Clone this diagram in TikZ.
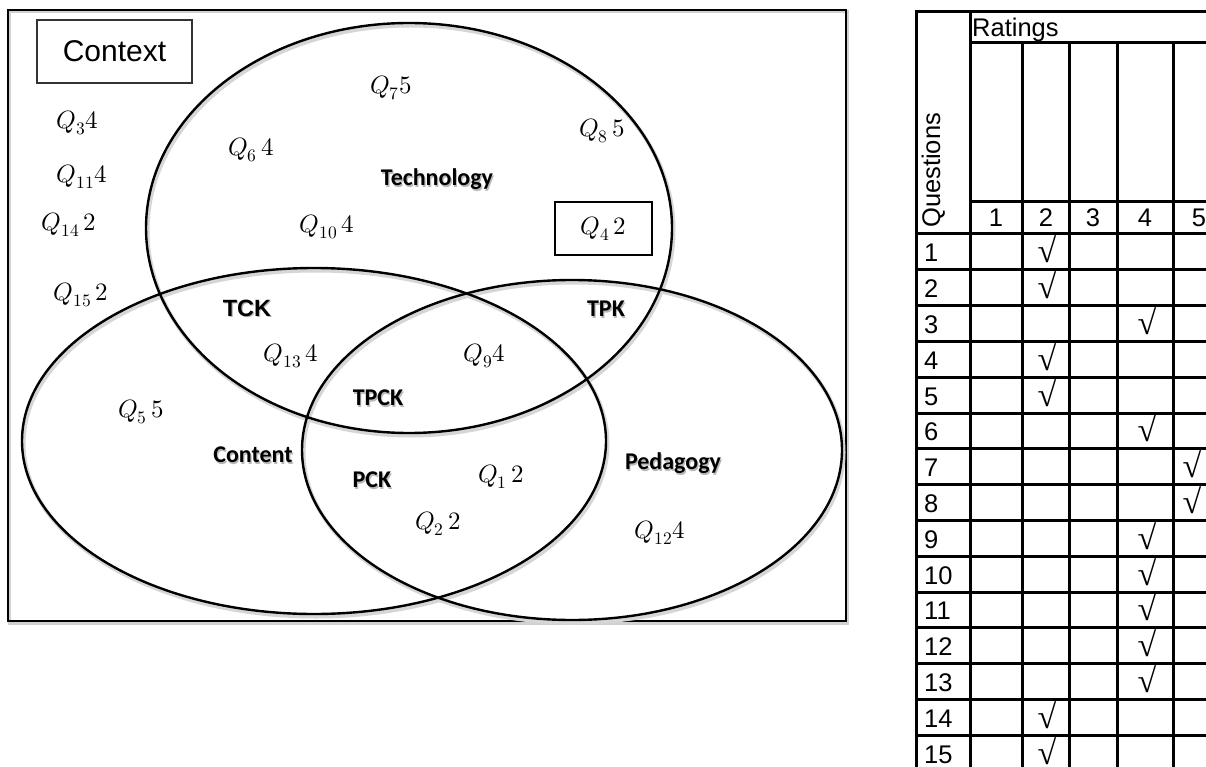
\documentclass[tikz,border=0pt]{standalone}
\usepackage{fontspec}
\usepackage{unicode-math}
\setmainfont{Liberation Sans}
\setmathfont{Latin Modern Math}
\newfontfamily\calibri{Carlito}
\newfontfamily\serifcheck{Liberation Serif}

% soft drop shadow behind the bold area labels
\newcommand{\shd}[1]{\makebox[0pt][l]{\hspace{1.2pt}\raisebox{-1.6pt}{\textcolor{black!28}{#1}}}#1}
% check mark set without depth
\newcommand{\tickmark}{\raisebox{0pt}[\height][0pt]{√}}

\tikzset{
  venn/.style={line width=2.4pt, black},
  vshadow/.style={line width=4pt, black!16},
  qlab/.style={inner sep=0pt, font=\fontsize{25}{29}\selectfont},
  area/.style={inner sep=0pt, font=\calibri\bfseries\fontsize{24}{28}\selectfont},
  tabtxt/.style={inner sep=0pt, font=\fontsize{25.5}{30}\selectfont},
  tick/.style={inner sep=0pt, font=\serifcheck\fontsize{34}{38}\selectfont},
  gridline/.style={line width=3pt, black},
}

\begin{document}
\begin{tikzpicture}[x=1pt,y=-1pt]
\useasboundingbox (0,0) rectangle (1206,767);
\clip (0,0) rectangle (1206,767);
\fill[white] (0,0) rectangle (1206,767);

% ---------------- context frame ----------------
\draw[black!18, line width=3pt] (9.5,12) rectangle (847.5,623);
\draw[line width=2.4pt] (8,10) rectangle (846,621);

% ---------------- the three knowledge domains ----------------
\draw[vshadow] (410.5,230.5) ellipse [x radius=263, y radius=205];
\draw[vshadow] (315.5,443.5) ellipse [x radius=292, y radius=173];
\draw[vshadow] (573.5,452.5) ellipse [x radius=270, y radius=170];
\draw[venn] (409,228) ellipse [x radius=263, y radius=205];
\draw[venn] (314,441) ellipse [x radius=292, y radius=173];
\draw[venn] (572,450) ellipse [x radius=270, y radius=170];

% ---------------- labels ----------------
\node[draw=black!80, line width=1.3pt, minimum width=155, minimum height=63,
      inner sep=0pt, font=\fontsize{30}{34}\selectfont] (context) at (114.5,51.5) {Context};

\node[area] (tech) at (437,180) {\shd{Technology}};
\node[area] (cont) at (253,456) {\shd{Content}};
\node[area] (ped)  at (673,464) {\shd{Pedagogy}};
\node[inner sep=0pt, font=\bfseries\fontsize{23.5}{27}\selectfont] (tck) at (247,309) {\shd{TCK}};
\node[area] (tpk)  at (606,310) {\shd{TPK}};
\node[area] (tpck) at (378,399) {\shd{TPCK}};
\node[area] (pck)  at (372,481) {\shd{PCK}};

% question scores
\node[qlab] (q3)  at (77,123)  {$Q_{3}4$};
\node[qlab] (q11) at (82,177)  {$Q_{11}4$};
\node[qlab] (q14) at (69,225)  {$Q_{14}\,2$};
\node[qlab] (q15) at (81,295)  {$Q_{15}\,2$};
\node[qlab] (q6)  at (251,150) {$Q_{6}\,4$};
\node[qlab] (q7)  at (391,88)  {$Q_{7}5$};
\node[qlab] (q8)  at (602,131) {$Q_{8}\,5$};
\node[qlab] (q10) at (327,227) {$Q_{10}\,4$};
\node[qlab, draw, line width=1.3pt, minimum width=97, minimum height=53] (q4) at (603.5,228.5) {$Q_{4}\,2$};
\node[qlab] (q13) at (291,356) {$Q_{13}\,4$};
\node[qlab] (q9)  at (484,356) {$Q_{9}4$};
\node[qlab] (q5)  at (141,412) {$Q_{5}\,5$};
\node[qlab] (q1)  at (501,477) {$Q_{1}\,2$};
\node[qlab] (q2)  at (438,524) {$Q_{2}\,2$};
\node[qlab] (q12) at (660,533) {$Q_{12}4$};

% ---------------- ratings table ----------------
\def\tl{916}
\draw[gridline] (\tl,12) -- (1206,12);
\draw[gridline] (970,43) -- (1206,43);
\draw[gridline] (970,202) -- (1206,202);
\foreach \k in {0,...,15}
  \draw[gridline] (\tl,234+35.8*\k) -- (1206,234+35.8*\k);
\draw[gridline] (\tl,10.5) -- (\tl,771);
\draw[gridline] (970,10.5) -- (970,771);
\foreach \xx in {1022,1069,1117,1173}
  \draw[gridline] (\xx,43) -- (\xx,771);

\node[tabtxt, anchor=base west] (ratings) at (972,37) {Ratings};
\node[tabtxt, rotate=90, anchor=base west] (questions) at (940,228) {Questions};
\foreach \c/\xx in {1/996,2/1046,3/1093,4/1145,5/1199}
  \node[tabtxt, anchor=base] (h\c) at (\xx,227) {\c};
\foreach \r in {1,...,15}
  \node[tabtxt, anchor=base west] (r\r) at (924,234+35.8*\r-8) {\r};
\foreach \r/\c in {1/2,2/2,3/4,4/2,5/2,6/4,7/5,8/5,9/4,10/4,11/4,12/4,13/4,14/2,15/2}{
  \pgfmathsetmacro{\cx}{{0,996,1047,1093,1147,1192}[\c]}
  \node[tick, anchor=base] (t\r) at (\cx,234+35.8*\r-7) {\tickmark};
}
\end{tikzpicture}
\end{document}
